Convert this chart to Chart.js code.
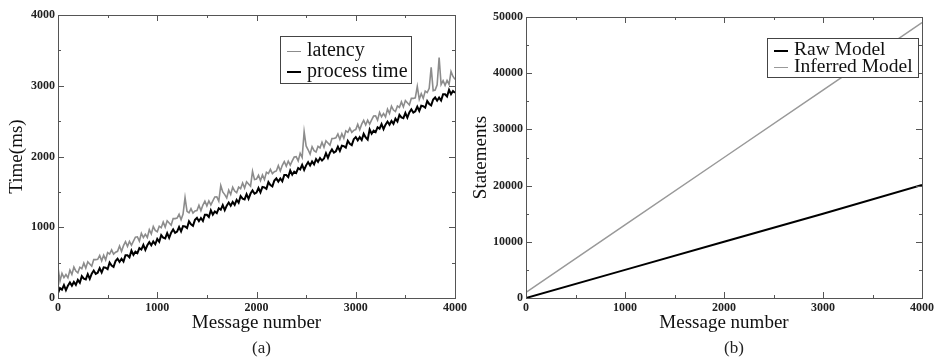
<!DOCTYPE html>
<html>
<head>
<meta charset="utf-8">
<script src="https://cdn.jsdelivr.net/npm/chart.js@4"></script>
<style>
  body { margin: 0; background: #fff; width: 937px; height: 362px; position: relative; overflow: hidden; font-family: "Liberation Serif", "DejaVu Serif", serif; }
  .panel { position: absolute; top: 0; }
  .cap { position: absolute; font-size: 17px; color: #222; }
  .legend { position: absolute; border: 1px solid #444; background: #fff; color: #111; }
  .legend div { position: relative; white-space: nowrap; }
  .legend span { display: inline-block; vertical-align: middle; margin-right: 6px; }
</style>
</head>
<body>
<div class="panel" style="left:0"><canvas id="chartA" width="470" height="348"></canvas></div>
<div class="panel" style="left:470px"><canvas id="chartB" width="467" height="348"></canvas></div>

<div class="legend" style="left:280px;top:36px;width:130px;height:46px;font-size:20px;line-height:22px;">
  <div style="left:6px;top:1px"><span style="width:14px;border-top:1.5px solid #8c8c8c"></span>latency</div>
  <div style="left:6px;top:0px"><span style="width:14px;border-top:2px solid #000"></span>process time</div>
</div>
<div class="legend" style="left:767px;top:38px;width:150px;height:38px;font-size:19.5px;line-height:18px;">
  <div style="left:6px;top:1px"><span style="width:14px;border-top:2px solid #000"></span>Raw Model</div>
  <div style="left:6px;top:0px"><span style="width:14px;border-top:1.5px solid #999"></span>Inferred Model</div>
</div>

<div class="cap" style="left:252px;top:338px">(a)</div>
<div class="cap" style="left:724px;top:338px">(b)</div>

<script>
// message numbers for panel (a), one sample every 20 messages
const messageNums = Array.from({ length: 201 }, (_, i) => i * 20);

const latency = [
  430, 239, 348, 287, 331, 285, 394, 333, 437, 381,
  356, 435, 414, 493, 422, 511, 480, 449, 543, 542,
  547, 601, 525, 604, 538, 642, 621, 680, 619, 648,
  660, 735, 660, 740, 795, 730, 800, 745, 805, 860,
  865, 805, 915, 855, 900, 855, 965, 905, 1010, 955,
  936, 1015, 994, 1073, 1002, 1091, 1060, 1029, 1123, 1122,
  1129, 1183, 1107, 1186, 1420, 1224, 1203, 1262, 1201, 1230,
  1237, 1311, 1235, 1314, 1368, 1302, 1371, 1315, 1374, 1428,
  1430, 1369, 1590, 1500, 1461, 1415, 1524, 1463, 1567, 1511,
  1488, 1567, 1546, 1625, 1554, 1643, 1612, 1581, 1790, 1674,
  1680, 1735, 1659, 1739, 1673, 1778, 1758, 1817, 1757, 1786,
  1796, 1871, 1795, 1875, 1929, 1864, 1934, 1878, 1938, 1992,
  1997, 1937, 2046, 1986, 2350, 2150, 2095, 2034, 2139, 2083,
  2063, 2143, 2122, 2202, 2131, 2221, 2191, 2160, 2255, 2254,
  2264, 2319, 2243, 2323, 2257, 2362, 2342, 2401, 2341, 2370,
  2380, 2454, 2378, 2457, 2511, 2445, 2514, 2458, 2517, 2571,
  2575, 2514, 2623, 2562, 2606, 2560, 2669, 2608, 2712, 2656,
  2635, 2714, 2693, 2772, 2701, 2790, 2759, 2728, 2822, 2821,
  2830, 2990, 2808, 2887, 2821, 2925, 2904, 2963, 3260, 2931,
  2940, 3014, 3400, 3017, 3071, 3005, 3074, 3018, 3200, 3131,
  3090
];

const processTime = [
  70, 139, 118, 182, 111, 175, 219, 173, 227, 186,
  256, 215, 309, 273, 262, 336, 270, 344, 388, 342,
  357, 421, 360, 434, 428, 407, 501, 460, 439, 523,
  555, 510, 555, 515, 605, 605, 575, 670, 610, 655,
  635, 705, 685, 750, 680, 745, 790, 745, 800, 760,
  836, 795, 889, 853, 842, 916, 850, 924, 968, 922,
  939, 1003, 942, 1016, 1010, 989, 1083, 1042, 1021, 1105,
  1132, 1086, 1130, 1089, 1178, 1177, 1146, 1240, 1179, 1223,
  1200, 1269, 1248, 1312, 1241, 1305, 1349, 1303, 1357, 1316,
  1388, 1347, 1441, 1405, 1394, 1468, 1402, 1476, 1520, 1474,
  1490, 1555, 1494, 1569, 1563, 1543, 1638, 1597, 1577, 1661,
  1691, 1646, 1690, 1650, 1739, 1739, 1709, 1803, 1743, 1787,
  1767, 1837, 1816, 1881, 1810, 1875, 1920, 1874, 1929, 1888,
  1963, 1923, 1977, 1942, 1971, 2046, 1981, 2055, 2100, 2054,
  2074, 2139, 2078, 2153, 2147, 2127, 2222, 2181, 2161, 2245,
  2275, 2229, 2273, 2232, 2321, 2270, 2239, 2383, 2322, 2366,
  2345, 2414, 2393, 2457, 2386, 2450, 2494, 2448, 2502, 2461,
  2535, 2494, 2588, 2552, 2541, 2615, 2549, 2623, 2667, 2621,
  2640, 2704, 2643, 2717, 2711, 2690, 2784, 2743, 2722, 2806,
  2835, 2789, 2833, 2792, 2881, 2880, 2849, 2943, 2882, 2926,
  2900
];

// panel (b)
const modelNums = [0, 1000, 2000, 3000, 4000];
const rawModel = [0, 5000, 10000, 15000, 20100];
const inferredModel = [1000, 13000, 25000, 37000, 49000];

const pts = (xs, ys) => xs.map((x, i) => ({ x: x, y: ys[i] }));

const serif = '"Liberation Serif", "DejaVu Serif", serif';

// frame + inward ticks on all four sides, like the xmgrace style
const framePlugin = {
  id: 'frame',
  afterDraw(chart, args, opts) {
    const { ctx, chartArea: a, scales } = chart;
    ctx.save();
    ctx.strokeStyle = '#555';
    ctx.lineWidth = 1;
    ctx.strokeRect(a.left + 0.5, a.top + 0.5, a.right - a.left, a.bottom - a.top);
    ctx.beginPath();
    for (let v = scales.x.min; v <= scales.x.max; v += opts.xMinor) {
      const px = Math.round(scales.x.getPixelForValue(v)) + 0.5;
      const len = (v % opts.xMajor === 0) ? 6 : 3;
      ctx.moveTo(px, a.bottom); ctx.lineTo(px, a.bottom - len);
      ctx.moveTo(px, a.top); ctx.lineTo(px, a.top + len);
    }
    for (let v = scales.y.min; v <= scales.y.max; v += opts.yMinor) {
      const py = Math.round(scales.y.getPixelForValue(v)) + 0.5;
      const len = (v % opts.yMajor === 0) ? 6 : 3;
      ctx.moveTo(a.left, py); ctx.lineTo(a.left + len, py);
      ctx.moveTo(a.right, py); ctx.lineTo(a.right - len, py);
    }
    ctx.stroke();
    ctx.restore();
  }
};

const tickFont = { family: serif, size: 12, weight: 'bold' };
const plain = v => String(v);

const makeOptions = (yMax, yStep, yTitle, yWidth, yTitlePad, pad) => ({
  responsive: false,
  animation: false,
  layout: { padding: pad },
  plugins: {
    legend: { display: false },
    tooltip: { enabled: false },
    frame: { xMinor: 500, xMajor: 1000, yMinor: yStep / 2, yMajor: yStep }
  },
  elements: { point: { radius: 0 } },
  scales: {
    x: {
      type: 'linear', min: 0, max: 4000,
      grid: { display: false, drawTicks: false },
      border: { display: false },
      ticks: { stepSize: 1000, color: '#222', padding: 3, font: tickFont, callback: plain, maxRotation: 0 },
      title: { display: true, text: 'Message number', color: '#111', font: { family: serif, size: 19 }, padding: { top: 0, bottom: 0 } },
      afterFit: s => { s.height = 36; }
    },
    y: {
      min: 0, max: yMax,
      grid: { display: false, drawTicks: false },
      border: { display: false },
      ticks: { stepSize: yStep, color: '#222', padding: 3, font: tickFont, callback: plain },
      title: { display: true, text: yTitle, color: '#111', font: { family: serif, size: 19 }, padding: { top: yTitlePad, bottom: 0 } },
      afterFit: s => { s.width = yWidth; }
    }
  }
});

new Chart(document.getElementById('chartA'), {
  type: 'line',
  data: {
    datasets: [
      { label: 'latency', data: pts(messageNums, latency), borderColor: '#8c8c8c', borderWidth: 1.6, tension: 0 },
      { label: 'process time', data: pts(messageNums, processTime), borderColor: '#000', borderWidth: 2, tension: 0 }
    ]
  },
  options: makeOptions(4000, 1000, 'Time(ms)', 58, 6, { top: 15, right: 8, left: 0, bottom: 14 }),
  plugins: [framePlugin]
});

new Chart(document.getElementById('chartB'), {
  type: 'line',
  data: {
    datasets: [
      { label: 'Raw Model', data: pts(modelNums, rawModel), borderColor: '#000', borderWidth: 2 },
      { label: 'Inferred Model', data: pts(modelNums, inferredModel), borderColor: '#999', borderWidth: 1.5 }
    ]
  },
  options: makeOptions(50000, 10000, 'Statements', 56, 0, { top: 17, right: 10, left: 0, bottom: 14 }),
  plugins: [framePlugin]
});
</script>
</body>
</html>
